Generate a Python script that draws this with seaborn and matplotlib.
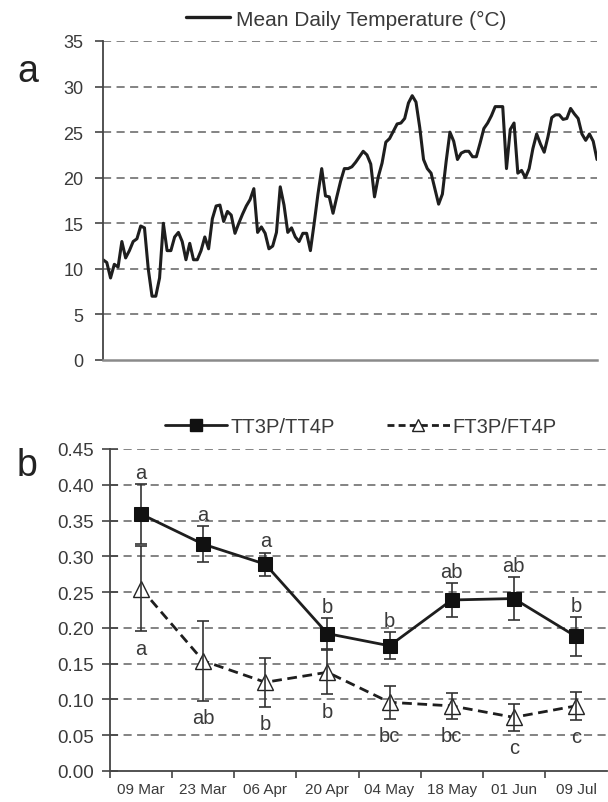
import numpy as np
import pandas as pd
import matplotlib
matplotlib.use("Agg")
import matplotlib.pyplot as plt
from matplotlib.lines import Line2D
import seaborn as sns

# ---- Data: panel a (mean daily temperature, deg C) ----
temp_values = [
    11, 10.7, 9, 10.5, 10.2, 13, 11.2, 12, 13, 13.3, 14.7, 14.5, 10, 7, 7, 9, 15, 12, 12, 13.5,
    14, 13, 11, 12.8, 11, 11, 12,
    13.5, 12.2, 15.5, 16.9, 17, 15.2, 16.3, 15.9, 13.9, 15, 16, 16.9, 17.6, 18.8, 14, 14.6,
    13.9, 12.2, 12.5, 14, 19, 17, 14, 14.5, 13.5, 13,
    13.9, 13.9, 12, 15, 18.2, 21, 18, 17.9, 16.1, 17.9, 19.6, 21, 21, 21.2, 21.7, 22.3, 22.9,
    22.5, 21.5, 17.9, 20.1, 21.6, 23.9, 24.3, 25.1, 25.9, 26,
    26.5, 28.2, 29, 28.3, 25.5, 22, 21, 20.5, 18.8, 17.1, 18.2, 21.8, 25, 24, 22, 22.7, 22.9,
    22.9, 22.3, 22.3, 23.8, 25.4, 26, 26.8, 27.8, 27.8,
    27.8, 21, 25.3, 26, 20.5, 20.8, 20, 21, 23.2, 24.8, 23.7, 22.8, 24.5, 26.6, 26.9, 26.9,
    26.4, 26.5, 27.6, 27, 26.5, 24.8, 24.1, 24.8, 24, 22,
]
temp_days = list(range(len(temp_values)))
temp_yticks = [0, 5, 10, 15, 20, 25, 30, 35]

# ---- Data: panel b ----
dates = ["09 Mar", "23 Mar", "06 Apr", "20 Apr", "04 May", "18 May", "01 Jun", "09 Jul"]
tt_mean = [0.359, 0.317, 0.289, 0.192, 0.175, 0.239, 0.241, 0.188]
tt_err = [0.042, 0.025, 0.016, 0.022, 0.019, 0.024, 0.030, 0.027]
ft_mean = [0.255, 0.154, 0.124, 0.138, 0.096, 0.091, 0.075, 0.091]
ft_err = [0.060, 0.056, 0.034, 0.031, 0.023, 0.018, 0.019, 0.020]
tt_letters = ["a", "a", "a", "b", "b", "ab", "ab", "b"]
ft_letters = ["a", "ab", "b", "b", "bc", "bc", "c", "c"]
ratio_yticks = [0.00, 0.05, 0.10, 0.15, 0.20, 0.25, 0.30, 0.35, 0.40, 0.45]

sns.set_theme(style="white")
plt.rcParams["font.family"] = ["Liberation Sans", "DejaVu Sans"]

W, H = 608, 803
fig = plt.figure(figsize=(W / 100, H / 100), dpi=100)

def box(l, t, r, b):
    return [l / W, 1 - b / H, (r - l) / W, (b - t) / H]

ax1 = fig.add_axes(box(103, 42, 597, 361))
ax2 = fig.add_axes(box(110, 450, 607, 772))

grid_kw = dict(color="#7a7a7a", linestyle=(0, (4.5, 3)), linewidth=1.3)
text_col = "#3a3a3a"

# ---- Panel a ----
df_t = pd.DataFrame({"day": temp_days, "temp": temp_values})
sns.lineplot(data=df_t, x="day", y="temp", ax=ax1, color="#1e1e1e", linewidth=2.2)
ax1.set_xlim(0, len(temp_values) - 1)
ax1.set_ylim(0, 35)
ax1.set_yticks(temp_yticks)
ax1.set_yticklabels([str(v) for v in temp_yticks], fontsize=13, color=text_col)
ax1.set_xticks([])
ax1.set_xlabel("")
ax1.set_ylabel("")
for v in temp_yticks[1:]:
    ax1.axhline(v, zorder=0, **grid_kw)
for s in ["top", "right"]:
    ax1.spines[s].set_visible(False)
ax1.spines["left"].set_color("#444444")
ax1.spines["left"].set_linewidth(1.3)
ax1.spines["bottom"].set_color("#8a8a8a")
ax1.spines["bottom"].set_linewidth(1.8)
ax1.tick_params(axis="y", direction="out", length=6, width=1.2, color="#444444", pad=8, left=True)
ax1.legend([Line2D([0], [0], color="#1e1e1e", lw=2.4)], ["Mean Daily Temperature (°C)"],
           loc="center left", bbox_to_anchor=(186 / W, 1 - 20 / H), bbox_transform=fig.transFigure,
           frameon=False, fontsize=15, handlelength=2.1, handletextpad=0.3, borderpad=0,
           borderaxespad=0, labelcolor=text_col)
fig.text(17 / W, 1 - 72 / H, "a", fontsize=27, color="#222222", va="center", ha="left")

# ---- Panel b ----
x = np.arange(len(dates))
df_r = pd.DataFrame({"x": np.concatenate([x, x]),
                     "ratio": tt_mean + ft_mean,
                     "series": ["TT3P/TT4P"] * len(dates) + ["FT3P/FT4P"] * len(dates)})
sns.lineplot(data=df_r[df_r.series == "TT3P/TT4P"], x="x", y="ratio", ax=ax2, color="#1e1e1e",
             linewidth=2.0, marker="s", markersize=10, markerfacecolor="#111111",
             markeredgecolor="#111111", zorder=4)
sns.lineplot(data=df_r[df_r.series == "FT3P/FT4P"], x="x", y="ratio", ax=ax2, color="#1e1e1e",
             linewidth=2.0, linestyle=(0, (3.5, 2)), marker="^", markersize=12,
             markerfacecolor="white", markeredgecolor="#222222", markeredgewidth=1.0, zorder=4)
ax2.errorbar(x, tt_mean, yerr=tt_err, fmt="none", ecolor="#333333", elinewidth=1.2,
             capsize=4.5, capthick=1.2, zorder=3)
ax2.errorbar(x, ft_mean, yerr=ft_err, fmt="none", ecolor="#333333", elinewidth=1.2,
             capsize=4.5, capthick=1.2, zorder=5)
for i in range(len(dates)):
    ax2.annotate(tt_letters[i], (x[i], tt_mean[i] + tt_err[i]), xytext=(0, 8.5),
                 textcoords="offset points", ha="center", va="center", fontsize=14.5, color=text_col)
    ax2.annotate(ft_letters[i], (x[i], ft_mean[i] - ft_err[i]), xytext=(0, -12),
                 textcoords="offset points", ha="center", va="center", fontsize=14.5, color=text_col)

ax2.set_xlim(-0.5, len(dates) - 0.5)
ax2.set_ylim(0, 0.45)
ax2.set_yticks(ratio_yticks)
ax2.set_yticklabels([f"{v:.2f}" for v in ratio_yticks], fontsize=13.5, color=text_col)
ax2.set_xticks(np.arange(-0.5, len(dates) - 0.5, 1))
ax2.set_xticklabels([])
ax2.set_xticks(x, minor=True)
ax2.set_xticklabels(dates, minor=True, fontsize=11, color=text_col)
ax2.tick_params(axis="x", which="minor", length=0, pad=8)
ax2.tick_params(axis="x", which="major", direction="out", length=5, width=1.2, color="#444444", bottom=True)
ax2.tick_params(axis="y", direction="inout", length=11, width=1.2, color="#444444", pad=6, left=True)
ax2.set_xlabel("")
ax2.set_ylabel("")
for v in ratio_yticks[1:]:
    ax2.axhline(v, zorder=0, **grid_kw)
for s in ["top", "right"]:
    ax2.spines[s].set_visible(False)
for s in ["left", "bottom"]:
    ax2.spines[s].set_color("#444444")
    ax2.spines[s].set_linewidth(1.3)

h_tt = Line2D([0], [0], color="#1e1e1e", lw=2.0, marker="s", markersize=8,
              markerfacecolor="#111111", markeredgecolor="#111111")
h_ft = Line2D([0], [0], color="#1e1e1e", lw=2.0, linestyle=(0, (2.5, 1.5)), marker="^",
              markersize=9, markerfacecolor="white", markeredgecolor="#222222")
ax2.legend([h_tt, h_ft], ["TT3P/TT4P", "FT3P/FT4P"], loc="center left",
           bbox_to_anchor=(165 / W, 1 - 428 / H), bbox_transform=fig.transFigure,
           ncol=2, frameon=False, fontsize=14.5, handlelength=3.1, handletextpad=0.15,
           columnspacing=2.6, borderpad=0, borderaxespad=0, labelcolor=text_col)
fig.text(17 / W, 1 - 466 / H, "b", fontsize=27, color="#222222", va="center", ha="left")

fig.savefig("out.png", dpi=100, facecolor="white")
